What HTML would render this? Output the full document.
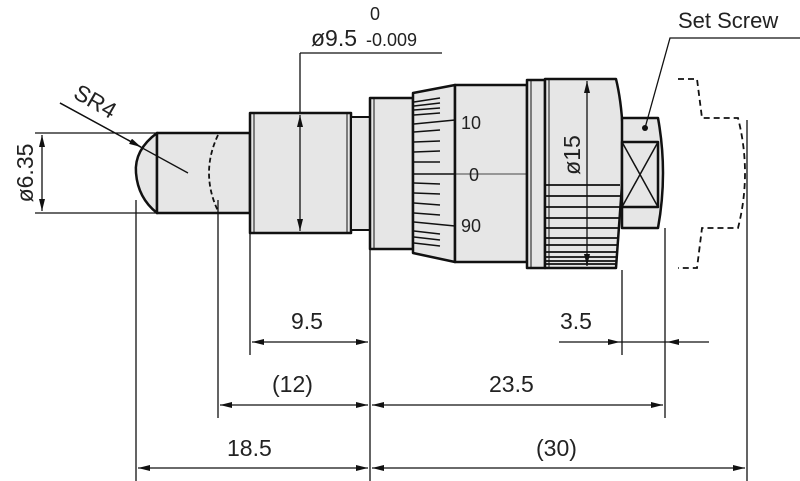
<!DOCTYPE html>
<html><head><meta charset="utf-8"><style>
html,body{margin:0;padding:0;background:#fff;}
svg{display:block}
text{font-family:"Liberation Sans","DejaVu Sans",sans-serif;fill:#222;}
</style></head><body>
<svg width="800" height="481" viewBox="0 0 800 481" xmlns="http://www.w3.org/2000/svg">
<defs>
<marker id="a" viewBox="0 0 12 6" refX="12" refY="3" markerWidth="12" markerHeight="6" markerUnits="userSpaceOnUse" orient="auto-start-reverse"><path d="M0,0L12,3L0,6z" fill="#111"/></marker>
</defs>
<g stroke="#111" fill="#e6e6e6" stroke-width="2.5" stroke-linejoin="round">
<path d="M157,133 Q134,150 136,173 Q138,198 157,213 Z"/>
<rect x="157" y="133" width="93" height="80"/>
<rect x="250" y="113" width="101" height="120"/>
<rect x="351" y="117" width="19" height="113" stroke-width="2"/>
<rect x="370" y="98" width="43" height="151"/>
<path d="M413,93 L455,85 L455,262 L413,253 Z"/>
<rect x="455" y="85" width="72" height="177"/>
<rect x="527" y="80" width="18" height="188"/>
<path d="M545,79 L616,79 Q626,120 622,185 L616,268 L545,268 Z"/>
<path d="M622,118 L658,118 Q668,173 658,228 L622,228 Z"/>
<rect x="622" y="142" width="36" height="65"/>
</g>
<g stroke="#111" fill="none">
<path d="M218,135 Q200,173 218,211" stroke-dasharray="5,3" stroke-width="1.8"/>
<path d="M254,113 V233 M347,113 V233 M374,98 V249 M531,80 V268 M549,79 V268" stroke-width="1"/>
<path d="M622,142 L658,207 M658,142 L622,207" stroke-width="1.5"/>
<path d="M545,185H620 M545,196H620 M545,207H620 M545,218H619 M545,228H619 M545,238H618 M545,245H618 M545,252H617 M545,257H617 M545,261H617 M545,264H616" stroke-width="1.8"/>
<g stroke-width="1.6">
<path d="M414,102L440,98 M414,106L440,103 M414,110L440,108 M414,115L440,113 M414,124L455,120 M414,132L440,130 M414,142L440,141 M414,152L440,151 M414,162L440,162 M414,174L455,174 M414,183L440,184 M414,193L440,194 M414,203L440,205 M414,213L440,215 M414,222L455,226 M414,231L440,234 M414,237L440,240 M414,243L440,246"/>
</g>
<path d="M455,174H527" stroke-width="0.8"/>
<path d="M678,79H697L702,118H738Q752,173 738,228H702L697,268H678" stroke-dasharray="6,4" stroke-width="1.8"/>
</g>
<g stroke="#111" stroke-width="1.3" fill="none">
<path d="M35,133H157 M35,213H157"/>
<path d="M42,173V135" marker-end="url(#a)"/><path d="M42,173V211" marker-end="url(#a)"/>
<path d="M60,103L188,173"/><path d="M60,103L141,147" marker-end="url(#a)"/>
<path d="M300,53H442 M300,53V113"/>
<path d="M300,173V115" marker-end="url(#a)"/><path d="M300,173V231" marker-end="url(#a)"/>
<path d="M587,173V81" marker-end="url(#a)"/><path d="M587,173V266" marker-end="url(#a)"/>
<path d="M800,38H670L645,128"/>
<path d="M136,200V481 M218,200V418 M250,233V355 M370,249V481 M622,270V355 M665,228V418 M747,120V481"/>
<path d="M310,342H252" marker-end="url(#a)"/><path d="M310,342H368" marker-end="url(#a)"/>
<path d="M290,405H220" marker-end="url(#a)"/><path d="M290,405H368" marker-end="url(#a)"/>
<path d="M500,405H372" marker-end="url(#a)"/><path d="M500,405H663" marker-end="url(#a)"/>
<path d="M250,468H138" marker-end="url(#a)"/><path d="M250,468H368" marker-end="url(#a)"/>
<path d="M550,468H372" marker-end="url(#a)"/><path d="M550,468H745" marker-end="url(#a)"/>
<path d="M559,342H620" marker-end="url(#a)"/><path d="M709,342H667" marker-end="url(#a)"/><path d="M620,342H667"/>
</g>
<circle cx="645" cy="128" r="3" fill="#111"/>
<g font-size="23">
<text x="678" y="28" font-size="22">Set Screw</text>
<text x="291" y="329">9.5</text>
<text x="272" y="392">(12)</text>
<text x="489" y="392">23.5</text>
<text x="227" y="456">18.5</text>
<text x="536" y="456">(30)</text>
<text x="560" y="329">3.5</text>
<text x="311" y="46">ø9.5</text>
<text transform="translate(33,173) rotate(-90)" text-anchor="middle">ø6.35</text>
<text transform="translate(72,97) rotate(30)">SR4</text>
<text transform="translate(580,155) rotate(-90)" text-anchor="middle">ø15</text>
</g>
<g font-size="18">
<text x="370" y="20">0</text>
<text x="366" y="46">-0.009</text>
<text x="461" y="129">10</text>
<text x="469" y="181">0</text>
<text x="461" y="232">90</text>
</g>
</svg>
</body></html>
